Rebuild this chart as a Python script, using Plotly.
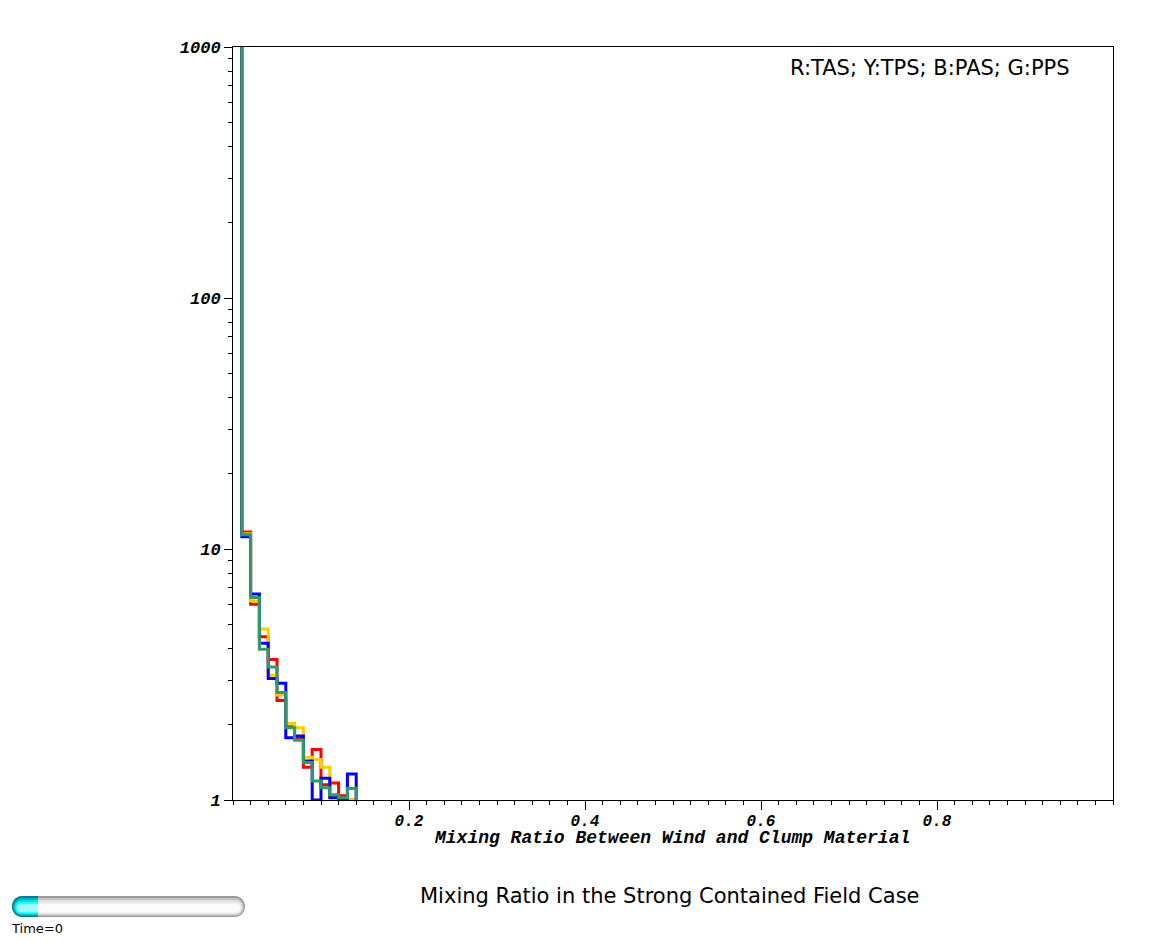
import numpy as np
import plotly.graph_objects as go

# ---- data (bin left edges, width 0.01; final edge closes the step) ----
bin_edges = [0.00, 0.01, 0.02, 0.03, 0.04, 0.05, 0.06, 0.07, 0.08, 0.09, 0.10, 0.11, 0.12, 0.13, 0.14]
tas = [5000, 11.7, 6.02, 4.47, 3.63, 2.49, 1.96, 1.76, 1.35, 1.59, 1.15, 1.17, 1.04, 1.0]
tps = [5000, 11.5, 6.20, 4.80, 3.14, 2.62, 2.02, 1.94, 1.48, 1.45, 1.35, 1.03, 1.0, 1.0]
pas = [5000, 11.2, 6.62, 4.21, 3.05, 2.92, 1.77, 1.80, 1.43, 1.0, 1.22, 1.02, 1.0, 1.27]
pps = [5000, 11.4, 6.41, 3.99, 3.39, 2.68, 1.94, 1.73, 1.41, 1.19, 1.12, 1.05, 1.02, 1.11]

series = [("TAS", tas, "#ff0000"), ("TPS", tps, "#ffcc00"),
          ("PAS", pas, "#0000ff"), ("PPS", pps, "#339966")]

x_tickvals = [0.2, 0.4, 0.6, 0.8]
x_ticktext = ["0.2", "0.4", "0.6", "0.8"]
y_tickvals = [1, 10, 100, 1000]
y_ticktext = ["1", "10", "100", "1000"]
y_minor = [m * 10 ** d for d in range(3) for m in range(2, 10)]

OFF = 8  # page body margin
W, H = 1171 - OFF, 942 - OFF
ML, MT = 233 - OFF, 47 - OFF
PW, PH = 880, 753
MR = W - ML - PW
MB = H - MT - PH

fig = go.Figure()
for name, vals, col in series:
    xs = bin_edges[:]
    ys = vals + [1.0]
    fig.add_trace(go.Scatter(x=xs, y=ys, mode="lines", line=dict(shape="hv", color=col, width=3),
                             name=name, showlegend=False, hoverinfo="skip"))

tick_font = dict(family="Liberation Mono", size=17, color="black", weight="bold", style="italic")

fig.update_xaxes(range=[0, 1], tickvals=x_tickvals, ticktext=x_ticktext, ticks="outside", ticklen=9,
                 tickcolor="black", tickwidth=1, showline=True, linecolor="black", linewidth=1,
                 mirror=True, showgrid=False, zeroline=False, tickfont=dict(tick_font, size=16),
                 ticklabelstandoff=-3,
                 minor=dict(ticks="outside", ticklen=4, tickcolor="black", tickwidth=1, dtick=0.02, tick0=0,
                            showgrid=False))
fig.update_yaxes(type="log", range=[0, 3], tickvals=y_tickvals, ticktext=y_ticktext, ticks="outside",
                 ticklen=8, tickcolor="black", tickwidth=1, showline=True, linecolor="black", linewidth=1,
                 mirror=True, showgrid=False, zeroline=False, tickfont=tick_font,
                 minor=dict(ticks="outside", ticklen=4, tickcolor="black", tickwidth=1, tickvals=y_minor,
                            showgrid=False))


def px2paper(px, py):
    # px, py are screenshot pixel coordinates
    return (px - OFF - ML) / PW, (MT + PH - (py - OFF)) / PH


def pill_path(x0, y0, x1, y1, round_right=True):
    r = (y1 - y0) / 2.0
    cy = (y0 + y1) / 2.0
    pts = []
    for a in np.linspace(np.pi / 2, 3 * np.pi / 2, 24):
        pts.append((x0 + r + r * np.cos(a), cy - r * np.sin(a)))
    if round_right:
        for a in np.linspace(-np.pi / 2, np.pi / 2, 24):
            pts.append((x1 - r + r * np.cos(a), cy - r * np.sin(a)))
    else:
        pts.append((x1, y1))
        pts.append((x1, y0))
    s = ""
    for i, (px, py) in enumerate(pts):
        u, v = px2paper(px, py)
        s += ("M" if i == 0 else "L") + f"{u:.5f},{v:.5f} "
    return s + "Z"


shapes = []
bx0, by0, bx1, by1 = 12, 896, 245, 917
bands = [(0, "#9a9a9a"), (2, "#c4c4c4"), (4, "#dedede"), (6, "#efefef"), (8, "#fbfbfb")]
for inset, col in bands:
    shapes.append(dict(type="path", xref="paper", yref="paper", layer="above",
                       path=pill_path(bx0 + inset * 0.6, by0 + inset, bx1 - inset * 0.6, by1 - inset * 0.6),
                       fillcolor=col, line=dict(width=0)))
cbands = [(0, "#007f86"), (2, "#00b5bb"), (4, "#00dfe3"), (6, "#22ffff"), (8, "#9affff")]
for inset, col in cbands:
    shapes.append(dict(type="path", xref="paper", yref="paper", layer="above",
                       path=pill_path(bx0 + inset * 0.6, by0 + inset, 38, by1 - inset * 0.6, round_right=False),
                       fillcolor=col, line=dict(width=0)))

label_font = dict(family="DejaVu Sans", size=21, color="black")
annotations = [
    dict(text="R:TAS; Y:TPS; B:PAS; G:PPS", xref="paper", yref="paper",
         x=px2paper(1072, 0)[0], y=px2paper(0, 68)[1], xanchor="right", yanchor="middle",
         showarrow=False, font=label_font),
    dict(text="Mixing Ratio in the Strong Contained Field Case", xref="paper", yref="paper",
         x=px2paper(670, 0)[0], y=px2paper(0, 896)[1], xanchor="center", yanchor="middle",
         showarrow=False, font=label_font),
    dict(text="Mixing Ratio Between Wind and Clump Material", xref="paper", yref="paper",
         x=px2paper(672, 0)[0], y=px2paper(0, 838)[1], xanchor="center", yanchor="middle",
         showarrow=False, font=dict(family="Liberation Mono", size=18, color="black",
                                    weight="bold", style="italic")),
    dict(text="Time=0", xref="paper", yref="paper",
         x=px2paper(9, 0)[0], y=px2paper(0, 928)[1], xanchor="left", yanchor="middle",
         showarrow=False, font=dict(family="DejaVu Sans", size=13, color="black")),
]

fig.update_layout(width=W, height=H, margin=dict(l=ML, r=MR, t=MT, b=MB, pad=0),
                  plot_bgcolor="white", paper_bgcolor="white", shapes=shapes,
                  annotations=annotations, showlegend=False)

fig.write_html("out.html")
